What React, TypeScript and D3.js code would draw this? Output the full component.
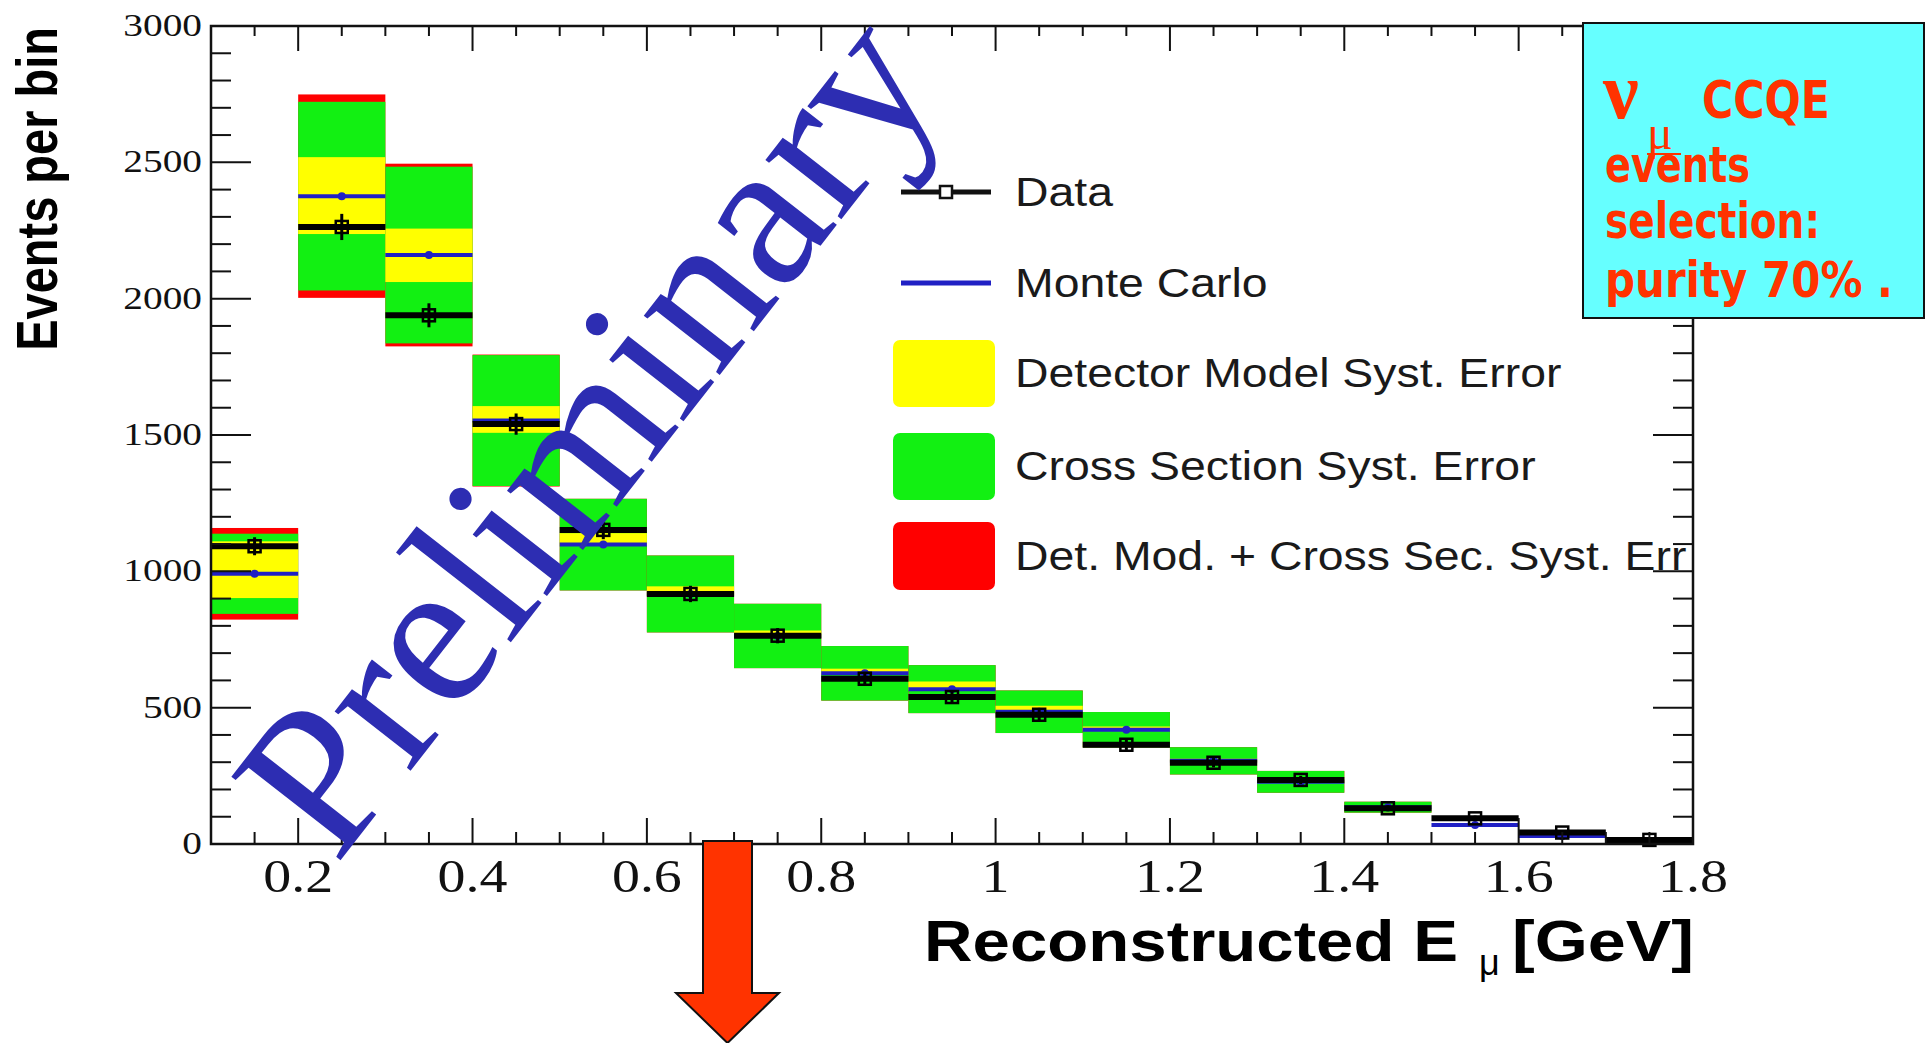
import React from "react";
import * as d3 from "d3";

// Reconstructed muon-neutrino energy bins (GeV), width 0.1
const binCenters = [0.15, 0.25, 0.35, 0.45, 0.55, 0.65, 0.75, 0.85, 0.95, 1.05, 1.15, 1.25, 1.35, 1.45, 1.55, 1.65, 1.75];
const binWidth = 0.1;

// Selected events per bin
const dataCounts = [1092, 2263, 1939, 1540, 1152, 917, 764, 606, 539, 474, 364, 298, 235, 131, 94, 42, 15];
const dataStatErr = [33, 48, 44, 39, 34, 30, 28, 25, 23, 22, 19, 17, 15, 11, 10, 6, 4];
const mcCounts = [991, 2376, 2160, 1553, 1098, 917, 763, 626, 568, 485, 419, 305, 228, 135, 70, 29, 10];

// Systematic bands around the Monte Carlo prediction
const detErrUp = [119, 143, 97, 53, 42, 28, 20, 17, 28, 22, 12, 8, 6, 4, 0, 0, 0];
const detErrDown = [89, 139, 99, 45, 4, 6, 6, 6, 5, 5, 4, 4, 3, 2, 0, 0, 0];
const xsecErr = [147, 346, 324, 240, 168, 141, 118, 100, 88, 78, 65, 50, 40, 20, 0, 0, 0];
const totalErr = [168, 373, 335, 242, 168, 141, 118, 100, 88, 78, 65, 50, 40, 20, 0, 0, 0];

const xTickValues = [0.2, 0.4, 0.6, 0.8, 1.0, 1.2, 1.4, 1.6, 1.8];
const xTickLabels = ["0.2", "0.4", "0.6", "0.8", "1", "1.2", "1.4", "1.6", "1.8"];
const yTickValues = [0, 500, 1000, 1500, 2000, 2500, 3000];
const yTickLabels = ["0", "500", "1000", "1500", "2000", "2500", "3000"];

const legendLabels = [
  "Data",
  "Monte Carlo",
  "Detector Model Syst. Error",
  "Cross Section Syst. Error",
  "Det. Mod. + Cross Sec. Syst. Err",
];

const W = 1927;
const H = 1043;
const frame = { left: 211, right: 1693, top: 26, bottom: 844 };

const YELLOW = "#ffff00";
const GREEN = "#12f012";
const RED = "#ff0000";
const BLUE = "#2020c4";
const WATERMARK = "#2d2db2";
const NOTE_RED = "#ff3300";

const serif = "'Liberation Serif', 'DejaVu Serif', serif";
const sans = "'Liberation Sans', Arial, Helvetica, sans-serif";
const noteFont = "'DejaVu Sans', sans-serif";

export default function App() {
  const x = d3.scaleLinear().domain([0.1, 1.8]).range([frame.left, frame.right]);
  const y = d3.scaleLinear().domain([0, 3000]).range([frame.bottom, frame.top]);

  const yTicks = d3.range(0, 3001, 100);
  const xTicks = d3.range(0, 35).map((i) => 0.1 + i * 0.05);

  const bins = binCenters.map((c, i) => ({
    x0: x(c - binWidth / 2),
    x1: x(c + binWidth / 2),
    xc: x(c),
    data: dataCounts[i],
    stat: dataStatErr[i],
    mc: mcCounts[i],
    detUp: detErrUp[i],
    detDown: detErrDown[i],
    xsec: xsecErr[i],
    tot: totalErr[i],
  }));

  const band = (lo: number, hi: number) => ({ y: y(hi), h: Math.max(0, y(lo) - y(hi)) });

  const legendRowsY = [192, 283, 373, 466, 556];

  return (
    <svg
      width={W}
      height={H}
      viewBox={`0 0 ${W} ${H}`}
      style={{ position: "absolute", left: 0, top: 0, display: "block", background: "#fff" }}
    >
      <rect x={0} y={0} width={W} height={H} fill="#fff" />

      {/* systematic error boxes */}
      {bins.map((b, i) => {
        const r = band(b.mc - b.tot, b.mc + b.tot);
        const g = band(b.mc - b.xsec, b.mc + b.xsec);
        const yl = band(b.mc - b.detDown, b.mc + b.detUp);
        return (
          <g key={`box${i}`}>
            <rect x={b.x0} y={r.y} width={b.x1 - b.x0} height={r.h} fill={RED} />
            <rect x={b.x0} y={g.y} width={b.x1 - b.x0} height={g.h} fill={GREEN} />
            <rect x={b.x0} y={yl.y} width={b.x1 - b.x0} height={yl.h} fill={YELLOW} />
          </g>
        );
      })}

      {/* Monte Carlo */}
      {bins.map((b, i) => (
        <g key={`mc${i}`}>
          <line x1={b.x0} x2={b.x1} y1={y(b.mc)} y2={y(b.mc)} stroke={BLUE} strokeWidth={4} />
          <circle cx={b.xc} cy={y(b.mc)} r={4} fill={BLUE} />
        </g>
      ))}

      {/* Data */}
      {bins.map((b, i) => (
        <g key={`data${i}`}>
          <line x1={b.x0} x2={b.x1} y1={y(b.data)} y2={y(b.data)} stroke="#000" strokeWidth={6} />
          <line
            x1={b.xc}
            x2={b.xc}
            y1={y(b.data - b.stat)}
            y2={y(b.data + b.stat)}
            stroke="#000"
            strokeWidth={3}
          />
          <rect
            x={b.xc - 6}
            y={y(b.data) - 6}
            width={12}
            height={12}
            fill="none"
            stroke="#000"
            strokeWidth={2.5}
          />
        </g>
      ))}

      {/* frame and ticks */}
      <rect
        x={frame.left}
        y={frame.top}
        width={frame.right - frame.left}
        height={frame.bottom - frame.top}
        fill="none"
        stroke="#111"
        strokeWidth={2.5}
      />
      {yTicks.map((v) => {
        const major = v % 500 === 0;
        const len = major ? 40 : 20;
        return (
          <g key={`yt${v}`} stroke="#111" strokeWidth={2}>
            <line x1={frame.left} x2={frame.left + len} y1={y(v)} y2={y(v)} />
            <line x1={frame.right} x2={frame.right - len} y1={y(v)} y2={y(v)} />
          </g>
        );
      })}
      {xTicks.map((v) => {
        const major = Math.round(v * 20) % 4 === 0;
        return (
          <g key={`xt${v.toFixed(2)}`} stroke="#111" strokeWidth={2}>
            <line x1={x(v)} x2={x(v)} y1={frame.bottom} y2={frame.bottom - (major ? 26 : 12)} />
            <line x1={x(v)} x2={x(v)} y1={frame.top} y2={frame.top + (major ? 25 : 10)} />
          </g>
        );
      })}

      {/* tick labels */}
      {yTickValues.map((v, i) => (
        <text
          key={`yl${v}`}
          transform={`translate(202,${y(v) + 10}) scale(1.23,1)`}
          textAnchor="end"
          fontFamily={serif}
          fontSize={32}
          fill="#111"
        >
          {yTickLabels[i]}
        </text>
      ))}
      {xTickValues.map((v, i) => (
        <text
          key={`xl${v}`}
          transform={`translate(${x(v)},892) scale(1.19,1)`}
          textAnchor="middle"
          fontFamily={serif}
          fontSize={47}
          fill="#111"
        >
          {xTickLabels[i]}
        </text>
      ))}

      {/* axis titles */}
      <text
        transform="translate(57,27) rotate(-90) scale(1,1.22)"
        textAnchor="end"
        fontFamily={sans}
        fontWeight="bold"
        fontSize={47}
        fill="#000"
      >
        Events per bin
      </text>
      <text
        x={924}
        y={961}
        fontFamily={sans}
        fontWeight="bold"
        fontSize={58}
        textLength={534}
        lengthAdjust="spacingAndGlyphs"
        fill="#000"
      >
        Reconstructed E
      </text>
      <text x={1479} y={975} fontFamily={sans} fontSize={36} fill="#000">
        μ
      </text>
      <text
        x={1512}
        y={961}
        fontFamily={sans}
        fontWeight="bold"
        fontSize={58}
        textLength={182}
        lengthAdjust="spacingAndGlyphs"
        fill="#000"
      >
        [GeV]
      </text>

      {/* legend */}
      <g>
        <line x1={901} x2={991} y1={legendRowsY[0]} y2={legendRowsY[0]} stroke="#111" strokeWidth={5} />
        <rect x={940} y={legendRowsY[0] - 6} width={12} height={12} fill="#fff" stroke="#111" strokeWidth={2.5} />
        <line x1={901} x2={991} y1={legendRowsY[1]} y2={legendRowsY[1]} stroke={BLUE} strokeWidth={5} />
        <rect x={893} y={legendRowsY[2] - 33} width={102} height={67} rx={7} fill={YELLOW} />
        <rect x={893} y={legendRowsY[3] - 33} width={102} height={67} rx={7} fill={GREEN} />
        <rect x={893} y={legendRowsY[4] - 34} width={102} height={68} rx={7} fill={RED} />
        {legendLabels.map((t, i) => (
          <text
            key={t}
            transform={`translate(1015,${legendRowsY[i] + 14}) scale(1.16,1)`}
            fontFamily={sans}
            fontSize={40}
            fill="#1a1a1a"
          >
            {t}
          </text>
        ))}
      </g>

      {/* watermark */}
      <text
        transform="translate(336,866) rotate(-52)"
        fontFamily={serif}
        fontSize={210}
        fill={WATERMARK}
      >
        Preliminary
      </text>

      {/* selection note */}
      <g>
        <rect x={1583} y={23} width={341} height={295} fill="#66ffff" stroke="#111" strokeWidth={2} />
        <text x={1603} y={118} fontFamily={serif} fontWeight="bold" fontSize={80} fill={NOTE_RED}>
          ν
        </text>
        <text x={1647} y={149} fontFamily={serif} fontSize={48} fill={NOTE_RED}>
          μ
        </text>
        <line x1={1647} x2={1681} y1={154} y2={154} stroke={NOTE_RED} strokeWidth={2} />
        <text
          x={1702}
          y={118}
          fontFamily={noteFont}
          fontWeight="bold"
          fontSize={52}
          textLength={128}
          lengthAdjust="spacingAndGlyphs"
          fill={NOTE_RED}
        >
          CCQE
        </text>
        <text
          x={1605}
          y={182}
          fontFamily={noteFont}
          fontWeight="bold"
          fontSize={50}
          textLength={145}
          lengthAdjust="spacingAndGlyphs"
          fill={NOTE_RED}
        >
          events
        </text>
        <text
          x={1605}
          y={238}
          fontFamily={noteFont}
          fontWeight="bold"
          fontSize={50}
          textLength={215}
          lengthAdjust="spacingAndGlyphs"
          fill={NOTE_RED}
        >
          selection:
        </text>
        <text
          x={1605}
          y={297}
          fontFamily={noteFont}
          fontWeight="bold"
          fontSize={50}
          textLength={288}
          lengthAdjust="spacingAndGlyphs"
          fill={NOTE_RED}
        >
          purity 70% .
        </text>
      </g>

      {/* arrow */}
      <path
        d="M703,841 L752,841 L752,993 L779,993 L727.5,1043 L676,993 L703,993 Z"
        fill={NOTE_RED}
        stroke="#111"
        strokeWidth={2}
      />
    </svg>
  );
}
